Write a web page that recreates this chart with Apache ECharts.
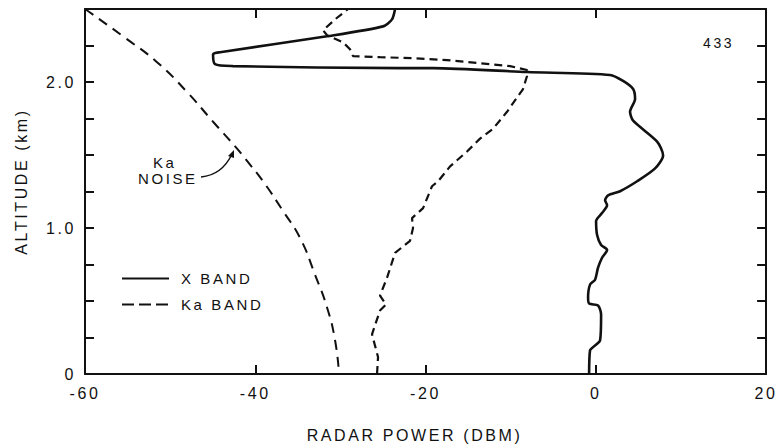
<!DOCTYPE html>
<html>
<head>
<meta charset="utf-8">
<script src="https://cdn.jsdelivr.net/npm/echarts@6/dist/echarts.min.js"></script>
<style>
  html, body { margin: 0; padding: 0; background: #fff; }
  #chart { width: 778px; height: 448px; }
  #chart text { letter-spacing: 2.6px; }
</style>
</head>
<body>
<div id="chart"></div>
<script>
// ---- data (power in dBm, altitude in km) ----
const xTicks = [-60, -40, -20, 0, 20];
const yTickLabels = ['0', '1.0', '2.0'];

const xBandPower = [-0.79, -0.68, -0.32, 0.50, 0.62, 0.26, -0.79, -0.91, -0.68, -0.09, 0.26, 0.73, 1.32, 0.62, 0.15, 0.03, 0.73, 1.32, 1.09, 1.44, 2.85, 4.85, 6.96, 7.90, 7.20, 4.38, 4.02, 4.61, 4.38, 3.20, 1.67, -8.08, -19.12, -23.0, -42.61, -44.73, -44.96, -44.14, -31.57, -24.99, -23.94, -23.58];
const xBandAltitude = [0, 0.163, 0.184, 0.231, 0.408, 0.469, 0.483, 0.524, 0.612, 0.646, 0.728, 0.796, 0.850, 0.884, 0.952, 1.048, 1.102, 1.156, 1.190, 1.224, 1.252, 1.320, 1.408, 1.497, 1.592, 1.735, 1.796, 1.884, 1.952, 2.007, 2.048, 2.068, 2.095, 2.095, 2.109, 2.122, 2.190, 2.204, 2.313, 2.381, 2.429, 2.5];

const kaBandPower = [-25.70, -25.58, -26.29, -25.35, -24.64, -25.35, -24.52, -23.58, -21.82, -21.47, -21.59, -20.29, -19.24, -18.53, -17.12, -15.13, -13.60, -12.07, -10.43, -8.55, -8.08, -8.08, -10.07, -13.60, -17.47, -21.47, -25.35, -28.52, -28.87, -29.69, -31.57, -32.04, -30.63, -29.10];
const kaBandAltitude = [0, 0.116, 0.272, 0.435, 0.476, 0.537, 0.660, 0.830, 0.912, 1.0, 1.068, 1.136, 1.286, 1.320, 1.422, 1.524, 1.612, 1.680, 1.796, 1.952, 2.041, 2.082, 2.109, 2.129, 2.150, 2.163, 2.170, 2.177, 2.224, 2.272, 2.320, 2.354, 2.429, 2.5];

const kaNoisePower = [-60, -59.41, -55.54, -51.54, -48.02, -44.96, -42.14, -41.20, -39.09, -36.74, -34.74, -32.98, -31.57, -30.63, -30.16];
const kaNoiseAltitude = [2.5, 2.476, 2.313, 2.136, 1.932, 1.728, 1.544, 1.476, 1.320, 1.116, 0.932, 0.680, 0.456, 0.231, 0];

const seriesNames = ['X BAND', 'Ka BAND', 'Ka NOISE'];

// ---- build ----
const zip = (a, b) => a.map((v, i) => [v, b[i]]);
const FONT = 'Liberation Sans, Arial, Helvetica, sans-serif';
const INK = '#111';

const chart = echarts.init(document.getElementById('chart'), null, { renderer: 'svg' });

const commonX = {
  type: 'value', min: xTicks[0], max: xTicks[xTicks.length - 1], interval: 20,
  splitLine: { show: false },
  axisLine: { show: true, onZero: false, lineStyle: { color: INK, width: 2 } },
  axisTick: { show: true, inside: true, length: 9, lineStyle: { color: INK, width: 2 } }
};
const commonY = {
  type: 'value', min: 0, max: 2.5, interval: 0.25,
  splitLine: { show: false },
  axisLine: { show: true, onZero: false, lineStyle: { color: INK, width: 2 } },
  axisTick: { show: true, inside: true, length: 9, lineStyle: { color: INK, width: 2 } }
};

chart.setOption({
  backgroundColor: '#fff',
  animation: false,
  grid: { left: 85, right: 11, top: 9, bottom: 71, containLabel: false },
  xAxis: [
    Object.assign({}, commonX, {
      position: 'bottom',
      name: 'RADAR POWER (DBM)', nameLocation: 'middle', nameGap: 53,
      nameTextStyle: { fontFamily: FONT, fontSize: 16, color: INK, padding: [0, 22, 0, 0] },
      axisLabel: { fontFamily: FONT, fontSize: 16, color: INK, margin: 11 }
    }),
    Object.assign({}, commonX, { position: 'top', axisLabel: { show: false } })
  ],
  yAxis: [
    Object.assign({}, commonY, {
      position: 'left',
      name: 'ALTITUDE (km)', nameLocation: 'middle', nameGap: 56,
      nameTextStyle: { fontFamily: FONT, fontSize: 16, color: INK, padding: [0, 0, 0, 20] },
      axisLabel: {
        fontFamily: FONT, fontSize: 16, color: INK, margin: 9,
        formatter: v => (Math.abs(v - Math.round(v)) < 1e-9 ? yTickLabels[Math.round(v)] : '')
      }
    }),
    Object.assign({}, commonY, { position: 'right', axisLabel: { show: false } })
  ],
  legend: {
    orient: 'vertical', left: 116, top: 266,
    itemWidth: 47, itemHeight: 14, itemGap: 11,
    data: [
      { name: seriesNames[0] },
      { name: seriesNames[1], lineStyle: { type: [12, 5] } }
    ],
    itemStyle: { opacity: 0 },
    textStyle: { fontFamily: FONT, fontSize: 15, color: INK, padding: [0, 0, 0, 7] }
  },
  series: [
    {
      name: seriesNames[0], type: 'line', data: zip(xBandPower, xBandAltitude),
      showSymbol: false, symbol: 'none', smooth: 0.25,
      lineStyle: { color: INK, width: 2.6, type: 'solid' }, itemStyle: { color: INK }
    },
    {
      name: seriesNames[1], type: 'line', data: zip(kaBandPower, kaBandAltitude),
      showSymbol: false, symbol: 'none', smooth: false,
      lineStyle: { color: INK, width: 2.2, type: [8, 5] }, itemStyle: { color: INK }
    },
    {
      name: seriesNames[2], type: 'line', data: zip(kaNoisePower, kaNoiseAltitude),
      showSymbol: false, symbol: 'none', smooth: true,
      lineStyle: { color: INK, width: 2, type: [10, 7] }, itemStyle: { color: INK }
    }
  ],
  graphic: [
    { type: 'text', left: 703, top: 36, style: { text: '433', fontFamily: FONT, fontSize: 14, fill: INK } },
    { type: 'text', left: 153, top: 155, style: { text: 'Ka', fontFamily: FONT, fontSize: 15, fill: INK } },
    { type: 'text', left: 138, top: 171, style: { text: 'NOISE', fontFamily: FONT, fontSize: 15, fill: INK } },
    { type: 'bezierCurve', shape: { x1: 201, y1: 177, cpx1: 222, cpy1: 175, x2: 232, y2: 154 },
      style: { stroke: INK, lineWidth: 1.5, fill: null } },
    { type: 'polygon', shape: { points: [[234, 150], [228, 156], [234, 158]] }, style: { fill: INK } }
  ]
});
</script>
</body>
</html>
